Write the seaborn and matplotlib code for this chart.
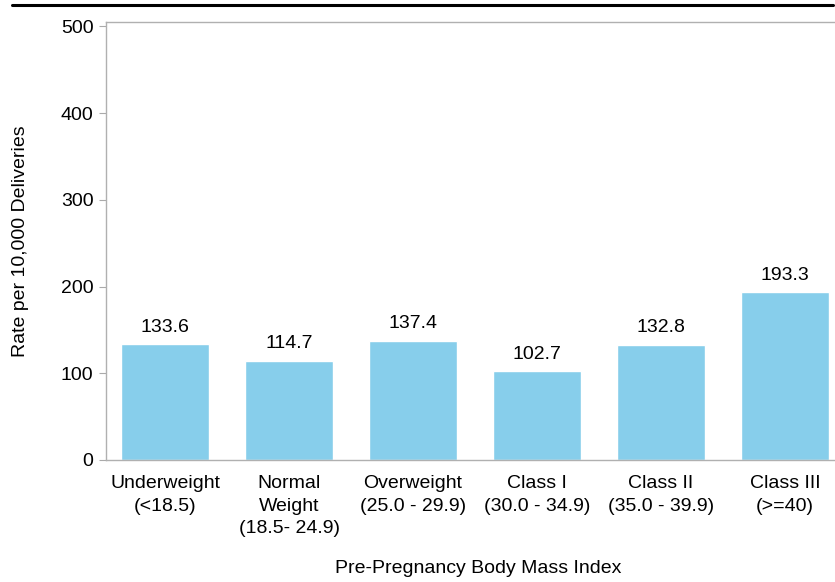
import pandas as pd
import matplotlib.pyplot as plt
import seaborn as sns
from matplotlib.lines import Line2D

# ----------------------------
# Data
# ----------------------------
categories = ["Underweight\n(<18.5)", "Normal\nWeight\n(18.5- 24.9)", "Overweight\n(25.0 - 29.9)",
              "Class I\n(30.0 - 34.9)", "Class II\n(35.0 - 39.9)", "Class III\n(>=40)"]
rates = [133.6, 114.7, 137.4, 102.7, 132.8, 193.3]
yticks = [0, 100, 200, 300, 400, 500]

df = pd.DataFrame({"bmi": categories, "rate": rates})

# ----------------------------
# Plot
# ----------------------------
sns.set_style("white")
plt.rcParams["font.family"] = ["Liberation Sans", "DejaVu Sans"]
fs = 14

fig = plt.figure(figsize=(8.35, 5.82), dpi=100)
ax = fig.add_axes([106 / 835, 1 - 460 / 582, 744 / 835, 438 / 582])

sns.barplot(x="bmi", y="rate", data=df, color="#87ceeb", width=0.71,
            saturation=1, ax=ax)

for c in ax.containers:
    ax.bar_label(c, fmt="%.1f", padding=6, fontsize=fs, color="black")

ax.set_ylim(0, 505)
ax.set_yticks(yticks)
ax.set_xlim(-0.476, 5.524)
ax.set_xlabel("Pre-Pregnancy Body Mass Index", fontsize=fs, labelpad=16, color="black")
ax.set_ylabel("Rate per 10,000 Deliveries", fontsize=fs, labelpad=23, color="black")
ax.tick_params(axis="y", length=5, color="#aaaaaa", labelsize=fs, pad=4,
               left=True, labelcolor="black")
ax.tick_params(axis="x", length=0, labelsize=fs, pad=11, labelcolor="black")
for lab in ax.get_xticklabels():
    lab.set_linespacing(1.43)

for s in ax.spines.values():
    s.set_color("#b0b0b0")
    s.set_linewidth(1)
ax.spines["right"].set_visible(False)

# thick line across the top
fig.add_artist(Line2D([12 / 835, 833 / 835], [1 - 5 / 582, 1 - 5 / 582],
                      color="black", linewidth=2.2, transform=fig.transFigure))

plt.savefig("out.png", dpi=100)
